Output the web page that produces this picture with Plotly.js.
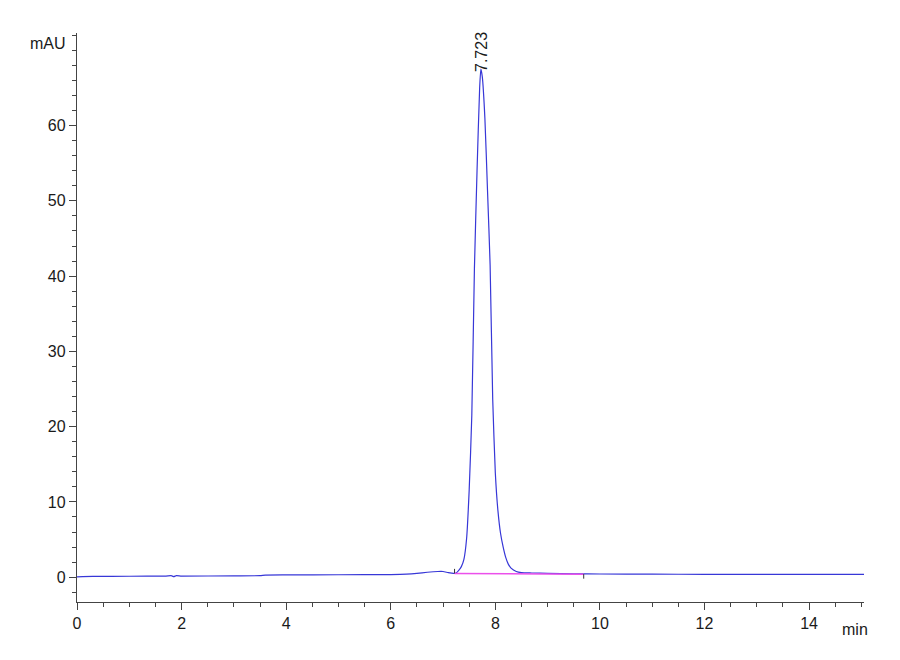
<!DOCTYPE html>
<html>
<head>
<meta charset="utf-8">
<script src="https://cdn.plot.ly/plotly-3.0.1.min.js"></script>
<style>html,body{margin:0;padding:0;background:#fff;}#chart{width:900px;height:660px;}</style>
</head>
<body>
<div id="chart"></div>
<script>
// Chromatogram signal (time in min, absorbance in mAU)
const timeMin = [0, 0.3, 1.0, 1.7, 1.8, 1.85, 1.9, 2.0, 3.0, 3.5, 3.6, 4.0, 5.0, 6.0, 6.3, 6.5, 6.7, 6.9, 7.0, 7.1, 7.2, 7.25, 7.3, 7.35, 7.4, 7.45, 7.5, 7.55, 7.6, 7.65, 7.7, 7.723, 7.75, 7.8, 7.85, 7.9, 7.95, 8.0, 8.05, 8.1, 8.15, 8.2, 8.25, 8.3, 8.4, 8.5, 8.7, 9.0, 9.5, 10.0, 11.0, 12.0, 13.0, 14.0, 15.05];
const signalMAU = [0.05, 0.1, 0.12, 0.15, 0.2, 0.08, 0.2, 0.15, 0.18, 0.2, 0.28, 0.3, 0.32, 0.35, 0.4, 0.5, 0.65, 0.75, 0.75, 0.6, 0.5, 0.55, 0.9, 1.4, 2.4, 5.1, 11.6, 21.5, 41.0, 54.0, 65.0, 67.5, 66.5, 61.0, 51.4, 41.5, 23.6, 13.8, 8.8, 5.8, 4.0, 2.6, 1.7, 1.2, 0.75, 0.6, 0.55, 0.5, 0.45, 0.42, 0.4, 0.38, 0.37, 0.36, 0.36];
// Integration baseline (start / end of peak)
const baseTime = [7.22, 9.69];
const baseMAU = [0.5, 0.4];
// Peak retention time label
const peakTime = 7.723;
const peakHeight = 67.5;
const peakLabel = "7.723";
// Axis tick values
const xTicks = [0, 2, 4, 6, 8, 10, 12, 14];
const yTicks = [0, 10, 20, 30, 40, 50, 60];

const traces = [
  {x: timeMin, y: signalMAU, type: 'scatter', mode: 'lines',
   line: {color: 'rgb(55,55,215)', width: 1.2, shape: 'spline', smoothing: 0.5}, hoverinfo: 'skip'},
  {x: baseTime, y: baseMAU, type: 'scatter', mode: 'lines',
   line: {color: 'rgb(235,80,235)', width: 1.5}, hoverinfo: 'skip'},
  {x: [baseTime[0], baseTime[0]], y: [baseMAU[0], baseMAU[0] + 0.6], type: 'scatter', mode: 'lines',
   line: {color: '#333', width: 1}, hoverinfo: 'skip'},
  {x: [baseTime[1], baseTime[1]], y: [baseMAU[1], baseMAU[1] - 0.6], type: 'scatter', mode: 'lines',
   line: {color: '#333', width: 1}, hoverinfo: 'skip'}
];

const fontBase = {family: '"Liberation Sans Narrow", "Arial Narrow", "Liberation Sans", Arial, sans-serif', size: 16, color: '#1a1a1a'};

const layout = {
  width: 900, height: 660,
  margin: {l: 77, r: 36, t: 33, b: 58},
  paper_bgcolor: '#fff', plot_bgcolor: '#fff',
  showlegend: false,
  font: fontBase,
  xaxis: {
    range: [0, 15.05], tickvals: xTicks, ticktext: xTicks.map(String),
    showgrid: false, zeroline: false, showline: true, linecolor: '#444', linewidth: 1.2,
    ticks: 'outside', ticklen: 7, tickcolor: '#444', tickfont: fontBase,
    minor: {dtick: 0.5, ticks: 'outside', ticklen: 4, tickcolor: '#444', showgrid: false}
  },
  yaxis: {
    range: [-3.3, 72.3], tickvals: yTicks, ticktext: yTicks.map(String),
    showgrid: false, zeroline: false, showline: true, linecolor: '#444', linewidth: 1.2,
    ticks: 'outside', ticklen: 7, tickcolor: '#444', tickfont: fontBase,
    minor: {dtick: 2, ticks: 'outside', ticklen: 4, tickcolor: '#444', showgrid: false}
  },
  annotations: [
    {x: peakTime, y: peakHeight, xref: 'x', yref: 'y', text: peakLabel, showarrow: false,
     textangle: -90, xanchor: 'center', yanchor: 'bottom', yshift: -5, font: fontBase},
    {x: -0.012, y: 0.982, xref: 'paper', yref: 'paper', text: 'mAU', showarrow: false,
     xanchor: 'right', yanchor: 'middle', font: fontBase},
    {x: 0.989, y: -0.03, xref: 'paper', yref: 'paper', text: 'min', showarrow: false,
     xanchor: 'center', yanchor: 'top', font: fontBase}
  ]
};

Plotly.newPlot('chart', traces, layout, {displayModeBar: false, staticPlot: true});
</script>
</body>
</html>
